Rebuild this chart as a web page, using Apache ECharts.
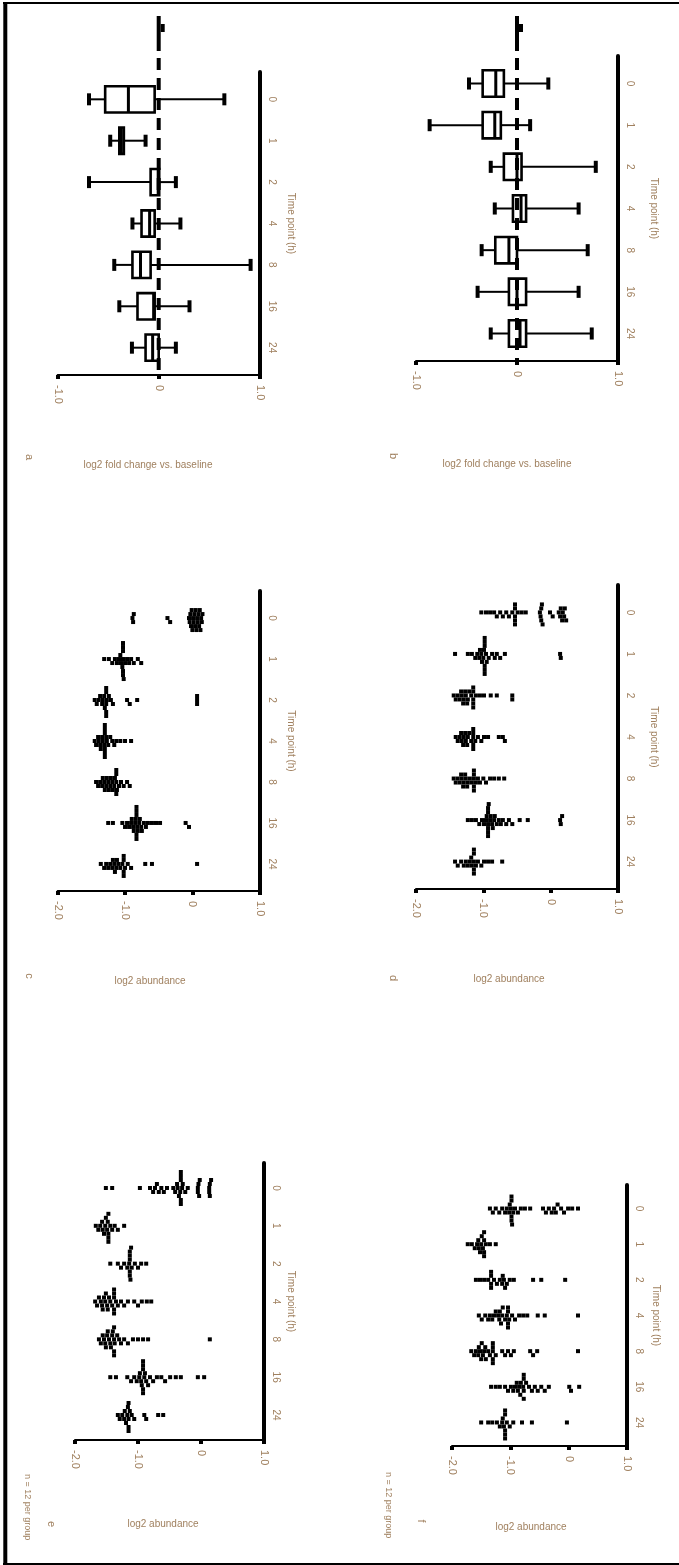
<!DOCTYPE html>
<html>
<head>
<meta charset="utf-8">
<script src="https://cdn.jsdelivr.net/npm/echarts@6/dist/echarts.min.js"></script>
<style>
html,body{margin:0;padding:0;background:#fff;}
#chart{width:679px;height:1565px;}
</style>
</head>
<body>
<div id="chart"></div>
<script>
// ---------------- data ----------------
const rowLabels = ['0', '1', '2', '4', '8', '16', '24'];
const boxTickLabels = { '-1': '-1.0', '0': '0', '1': '1.0' };
const dotTickLabels = { '-2': '-2.0', '-1': '-1.0', '0': '0', '1': '1.0' };
const xTitles = ['log2 fold change vs. baseline', 'log2 fold change vs. baseline',
  'log2 abundance', 'log2 abundance', 'log2 abundance', 'log2 abundance'];
const yTitles = ['Time point (h)', 'Time point (h)', 'Time point (h)',
  'Time point (h)', 'Time point (h)', 'Time point (h)'];
const panelTags = ['a', 'b', 'c', 'd', 'e', 'f'];
const notes = ['n = 12 per group', 'n = 12 per group'];

// box panels: [min, q1, median, q3, max], rows top to bottom
const boxA = [
  [-0.69, -0.53, -0.30, -0.04, 0.65],
  [-0.48, -0.39, -0.37, -0.345, -0.13],
  [-0.69, -0.08, -0.005, 0.005, 0.17],
  [-0.26, -0.17, -0.09, -0.04, 0.215],
  [-0.44, -0.26, -0.18, -0.08, 0.91],
  [-0.39, -0.21, -0.05, -0.04, 0.305],
  [-0.265, -0.13, -0.06, 0.0, 0.17]
];
const boxB = [
  [-0.475, -0.34, -0.21, -0.13, 0.31],
  [-0.865, -0.34, -0.22, -0.16, 0.13],
  [-0.26, -0.13, 0.0, 0.045, 0.78],
  [-0.22, -0.04, 0.04, 0.09, 0.61],
  [-0.35, -0.215, -0.08, 0.0, 0.70],
  [-0.39, -0.08, 0.0, 0.09, 0.61],
  [-0.26, -0.08, 0.03, 0.09, 0.74]
];

// dot panels: individual values per row, rows top to bottom
const dotsC = [
  [-0.89,-0.88,-0.87,-0.37,-0.33,-0.05,-0.04,-0.03,-0.02,-0.01,0.00,0.01,0.02,0.03,0.04,0.05,0.06,0.07,0.08,0.09,0.10,0.11,0.12,0.13,0.14,0.15],
  [-1.31,-1.24,-1.19,-1.15,-1.12,-1.09,-1.07,-1.06,-1.04,-1.03,-1.03,-1.03,-1.03,-1.03,-1.03,-1.02,-1.00,-0.97,-0.94,-0.91,-0.87,-0.81,-0.76],
  [-1.45,-1.42,-1.39,-1.37,-1.34,-1.33,-1.31,-1.30,-1.28,-1.28,-1.28,-1.28,-1.28,-1.27,-1.24,-1.21,-1.18,-0.97,-0.93,-0.82,0.07,0.07,0.07],
  [-1.45,-1.43,-1.40,-1.39,-1.37,-1.36,-1.34,-1.33,-1.31,-1.30,-1.30,-1.30,-1.30,-1.30,-1.30,-1.28,-1.27,-1.25,-1.22,-1.19,-1.16,-1.13,-1.07,-1.00,-0.91],
  [-1.43,-1.40,-1.37,-1.34,-1.33,-1.31,-1.30,-1.28,-1.27,-1.25,-1.24,-1.22,-1.21,-1.19,-1.18,-1.16,-1.15,-1.13,-1.13,-1.13,-1.13,-1.12,-1.09,-1.06,-1.02,-0.97,-0.93],
  [-1.25,-1.18,-1.04,-1.00,-0.97,-0.94,-0.91,-0.90,-0.88,-0.87,-0.85,-0.84,-0.83,-0.83,-0.83,-0.83,-0.83,-0.82,-0.81,-0.79,-0.78,-0.76,-0.75,-0.72,-0.69,-0.66,-0.60,-0.54,-0.48,-0.10,-0.05],
  [-1.36,-1.31,-1.28,-1.25,-1.22,-1.19,-1.18,-1.16,-1.15,-1.13,-1.12,-1.10,-1.07,-1.04,-1.02,-1.02,-1.02,-1.02,-1.00,-0.96,-0.91,-0.70,-0.60,0.07]
];
const dotsD = [
  [-1.03,-0.96,-0.90,-0.84,-0.80,-0.75,-0.71,-0.66,-0.62,-0.57,-0.53,-0.53,-0.53,-0.53,-0.53,-0.49,-0.43,-0.37,-0.16,-0.15,-0.14,-0.14,-0.13,-0.12,-0.01,0.03,0.12,0.14,0.15,0.17,0.18,0.20,0.21,0.23],
  [-1.42,-1.23,-1.17,-1.12,-1.09,-1.06,-1.05,-1.03,-1.02,-1.00,-0.99,-0.98,-0.98,-0.98,-0.98,-0.98,-0.98,-0.96,-0.95,-0.92,-0.87,-0.83,-0.80,-0.75,-0.68,0.14,0.15],
  [-1.44,-1.41,-1.38,-1.35,-1.33,-1.32,-1.30,-1.29,-1.27,-1.26,-1.24,-1.23,-1.21,-1.18,-1.15,-1.15,-1.15,-1.15,-1.15,-1.11,-1.05,-0.99,-0.89,-0.80,-0.57,-0.57],
  [-1.41,-1.38,-1.35,-1.33,-1.32,-1.30,-1.29,-1.27,-1.26,-1.24,-1.23,-1.21,-1.18,-1.15,-1.15,-1.15,-1.15,-1.15,-1.12,-1.08,-1.03,-0.99,-0.93,-0.77,-0.71,-0.68],
  [-1.44,-1.41,-1.38,-1.35,-1.33,-1.32,-1.30,-1.29,-1.27,-1.26,-1.24,-1.23,-1.20,-1.17,-1.14,-1.14,-1.14,-1.14,-1.14,-1.11,-1.08,-1.05,-1.00,-0.96,-0.90,-0.84,-0.77,-0.69],
  [-1.23,-1.17,-1.11,-1.06,-1.02,-0.99,-0.96,-0.95,-0.93,-0.93,-0.93,-0.93,-0.93,-0.93,-0.92,-0.90,-0.89,-0.87,-0.86,-0.84,-0.83,-0.80,-0.77,-0.74,-0.71,-0.66,-0.62,-0.57,-0.46,-0.34,0.14,0.15,0.17],
  [-1.42,-1.38,-1.33,-1.29,-1.26,-1.23,-1.20,-1.18,-1.17,-1.14,-1.14,-1.14,-1.14,-1.14,-1.11,-1.08,-1.03,-0.99,-0.93,-0.87,-0.72]
];
const dotsE = [
  [-1.51,-1.41,-0.97,-0.81,-0.76,-0.73,-0.70,-0.67,-0.63,-0.59,-0.54,-0.44,-0.41,-0.38,-0.37,-0.35,-0.33,-0.32,-0.32,-0.32,-0.32,-0.32,-0.30,-0.29,-0.25,-0.21,-0.05,-0.05,-0.04,-0.03,-0.02,0.13,0.13,0.14,0.14,0.16],
  [-1.67,-1.63,-1.60,-1.57,-1.56,-1.54,-1.52,-1.51,-1.49,-1.48,-1.47,-1.47,-1.47,-1.47,-1.44,-1.41,-1.37,-1.32,-1.22],
  [-1.44,-1.32,-1.27,-1.22,-1.17,-1.14,-1.13,-1.13,-1.13,-1.13,-1.13,-1.12,-1.11,-1.10,-1.05,-1.00,-0.95,-0.87],
  [-1.68,-1.65,-1.62,-1.59,-1.57,-1.56,-1.54,-1.52,-1.51,-1.49,-1.48,-1.46,-1.44,-1.41,-1.38,-1.38,-1.38,-1.38,-1.38,-1.35,-1.32,-1.27,-1.22,-1.16,-1.06,-1.00,-0.94,-0.86,-0.79],
  [-1.62,-1.59,-1.56,-1.54,-1.52,-1.51,-1.49,-1.48,-1.46,-1.44,-1.43,-1.41,-1.40,-1.38,-1.38,-1.38,-1.38,-1.37,-1.33,-1.30,-1.27,-1.22,-1.16,-1.08,-1.00,-0.92,-0.84,0.14],
  [-1.44,-1.35,-1.17,-1.11,-1.06,-1.02,-0.98,-0.97,-0.95,-0.94,-0.92,-0.92,-0.92,-0.92,-0.92,-0.90,-0.89,-0.87,-0.84,-0.81,-0.76,-0.70,-0.63,-0.57,-0.49,-0.40,-0.32,-0.05,0.05],
  [-1.32,-1.29,-1.25,-1.22,-1.21,-1.19,-1.17,-1.16,-1.15,-1.15,-1.15,-1.15,-1.13,-1.10,-1.06,-0.90,-0.87,-0.68,-0.60]
];
const dotsF = [
  [-1.35,-1.30,-1.25,-1.19,-1.14,-1.09,-1.06,-1.02,-1.01,-0.99,-0.98,-0.98,-0.98,-0.98,-0.97,-0.95,-0.92,-0.87,-0.82,-0.75,-0.66,-0.44,-0.39,-0.34,-0.29,-0.25,-0.22,-0.19,-0.13,-0.08,-0.01,0.06,0.16],
  [-1.73,-1.66,-1.61,-1.57,-1.55,-1.54,-1.52,-1.50,-1.49,-1.47,-1.45,-1.45,-1.45,-1.45,-1.42,-1.35,-1.25],
  [-1.59,-1.52,-1.45,-1.38,-1.33,-1.33,-1.33,-1.33,-1.28,-1.23,-1.18,-1.14,-1.13,-1.11,-1.09,-1.06,-1.01,-0.94,-0.61,-0.47,-0.06],
  [-1.54,-1.49,-1.43,-1.38,-1.35,-1.31,-1.28,-1.25,-1.21,-1.19,-1.18,-1.16,-1.14,-1.13,-1.09,-1.06,-1.04,-1.04,-1.04,-1.04,-1.02,-0.97,-0.92,-0.85,-0.78,-0.71,-0.53,-0.41,0.16],
  [-1.67,-1.62,-1.59,-1.55,-1.54,-1.52,-1.50,-1.49,-1.47,-1.45,-1.43,-1.42,-1.38,-1.35,-1.30,-1.30,-1.30,-1.30,-1.30,-1.25,-1.14,-1.09,-1.04,-0.99,-0.94,-0.66,-0.61,-0.54,0.16],
  [-1.33,-1.25,-1.18,-1.09,-1.04,-0.99,-0.95,-0.92,-0.89,-0.87,-0.85,-0.83,-0.82,-0.78,-0.77,-0.77,-0.77,-0.77,-0.73,-0.68,-0.63,-0.58,-0.53,-0.47,-0.41,-0.34,0.01,0.04,0.18],
  [-1.50,-1.38,-1.31,-1.23,-1.18,-1.14,-1.13,-1.11,-1.09,-1.09,-1.09,-1.09,-1.09,-1.06,-1.01,-0.95,-0.80,-0.63,-0.03]
];

// ---------------- layout ----------------
const TXT = '#a0805f';
const FONT = 'Liberation Sans, DejaVu Sans, sans-serif';
const ROW_MIN = 0.34, ROW_MAX = 7.66;
const panels = [
  { kind: 'box', data: boxA, left: 57.7, top: 72,   width: 202, height: 303, nameGap: 26 },
  { kind: 'box', data: boxB, left: 416,  top: 56,   width: 202, height: 305, nameGap: 31 },
  { kind: 'dot', data: dotsC, left: 57.7, top: 591,  width: 202, height: 300, nameGap: 26 },
  { kind: 'dot', data: dotsD, left: 416,  top: 585,  width: 202, height: 304, nameGap: 31 },
  { kind: 'dot', data: dotsE, left: 75,   top: 1163, width: 189, height: 277, nameGap: 22 },
  { kind: 'dot', data: dotsF, left: 452,  top: 1185, width: 175, height: 261, nameGap: 24 }
];
const titlePos = [[148, 465], [507, 464], [150, 981], [509, 979], [163, 1524], [531, 1527]];
const tagPos = [[29, 457], [393, 456], [29, 976], [393, 978], [51, 1524], [421, 1521]];
const notePos = [[27, 1474], [388, 1472]];
const REF_TOP = 16;
const DOT = 4;

// beeswarm layout (vertical offsets only, to avoid overlap of dots)
function swarm(rows, pxPerUnit, pxPerRow) {
  const out = [];
  rows.forEach((vals, ri) => {
    const placed = [];
    vals.slice().sort((a, b) => a - b).forEach(v => {
      const x = v * pxPerUnit;
      let off = 0;
      for (let k = 0; ; k++) {
        off = (k % 2 === 1 ? 1 : -1) * Math.ceil(k / 2) * DOT;
        if (!placed.some(p => Math.abs(p[0] - x) < DOT - 0.01 && Math.abs(p[1] - off) < DOT - 0.01)) break;
      }
      placed.push([x, off]);
      out.push([v, ri + 1 + off / pxPerRow]);
    });
  });
  return out;
}

function boxRender(params, api) {
  const r = api.value(0);
  const pt = k => api.coord([api.value(k), r]);
  const y = pt(1)[1];
  const xMin = pt(1)[0], xQ1 = pt(2)[0], xMed = pt(3)[0], xQ3 = pt(4)[0], xMax = pt(5)[0];
  const band = api.size([0, 1])[1];
  const bh = band * 0.635, ch = band * 0.29;
  const ln = { stroke: '#000', lineWidth: 2 };
  return {
    type: 'group',
    children: [
      { type: 'line', shape: { x1: xMin, y1: y, x2: xQ1, y2: y }, style: ln },
      { type: 'line', shape: { x1: xQ3, y1: y, x2: xMax, y2: y }, style: ln },
      { type: 'rect', shape: { x: xQ1, y: y - bh / 2, width: xQ3 - xQ1, height: bh },
        style: { fill: '#fff', stroke: '#000', lineWidth: 2.6 } },
      { type: 'line', shape: { x1: xMed, y1: y - bh / 2, x2: xMed, y2: y + bh / 2 },
        style: { stroke: '#000', lineWidth: 3 } },
      { type: 'rect', shape: { x: xMin - 2, y: y - ch / 2, width: 4, height: ch }, style: { fill: '#000' } },
      { type: 'rect', shape: { x: xMax - 2, y: y - ch / 2, width: 4, height: ch }, style: { fill: '#000' } }
    ]
  };
}

function refRender(params, api) {
  const x = api.coord([api.value(0), api.value(1)])[0];
  const cs = params.coordSys;
  const bottom = cs.y + cs.height + 2;
  return {
    type: 'group',
    children: [
      { type: 'line', shape: { x1: x, y1: REF_TOP, x2: x, y2: REF_TOP + 35 }, style: { stroke: '#000', lineWidth: 4 } },
      { type: 'rect', shape: { x: x + 2, y: REF_TOP + 8, width: 4, height: 8 }, style: { fill: '#000' } },
      { type: 'line', shape: { x1: x, y1: REF_TOP + 42, x2: x, y2: bottom },
        style: { stroke: '#000', lineWidth: 4, lineDash: [12, 8] } }
    ]
  };
}

const grid = [], xAxis = [], yAxis = [], series = [];
panels.forEach((p, i) => {
  grid.push({ left: p.left, top: p.top, width: p.width, height: p.height });
  const isBox = p.kind === 'box';
  const tickMap = isBox ? boxTickLabels : dotTickLabels;
  xAxis.push({
    gridIndex: i, type: 'value', min: isBox ? -1 : -2, max: 1, interval: 1,
    axisLine: { show: true, onZero: false, lineStyle: { color: '#000', width: 2 } },
    axisTick: { show: true, length: 4, lineStyle: { color: '#000', width: 4 } },
    splitLine: { show: false },
    axisLabel: {
      rotate: -90, margin: 10, fontSize: 11, color: TXT, fontFamily: FONT,
      formatter: v => tickMap[String(Math.round(v))] ?? ''
    }
  });
  yAxis.push({
    gridIndex: i, type: 'value', inverse: true, position: 'right',
    min: ROW_MIN, max: ROW_MAX,
    axisLine: { show: true, onZero: false, lineStyle: { color: '#000', width: 4 } },
    axisTick: { show: false },
    splitLine: { show: false },
    axisLabel: {
      customValues: [1, 2, 3, 4, 5, 6, 7], rotate: -90, margin: 7,
      fontSize: 10, color: TXT, fontFamily: FONT,
      formatter: v => rowLabels[Math.round(v) - 1] ?? ''
    },
    name: yTitles[i], nameLocation: 'middle', nameRotate: -90, nameGap: p.nameGap,
    nameTextStyle: { fontSize: 10, color: TXT, fontFamily: FONT }
  });
  if (isBox) {
    series.push({
      type: 'custom', xAxisIndex: i, yAxisIndex: i, silent: true,
      data: p.data.map((b, r) => [r + 1].concat(b)),
      encode: { x: [1, 2, 3, 4, 5], y: 0 },
      renderItem: boxRender, z: 2
    });
    series.push({
      type: 'custom', xAxisIndex: i, yAxisIndex: i, silent: true, clip: false,
      data: [[0, 1]], encode: { x: 0, y: 1 },
      renderItem: refRender, z: 5
    });
  } else {
    const pxPerUnit = p.width / 3;
    const pxPerRow = p.height / (ROW_MAX - ROW_MIN);
    series.push({
      type: 'scatter', xAxisIndex: i, yAxisIndex: i, silent: true,
      symbol: 'rect', symbolSize: DOT,
      itemStyle: { color: '#000', opacity: 1 },
      data: swarm(p.data, pxPerUnit, pxPerRow)
    });
  }
});

const graphic = [
  { type: 'line', shape: { x1: 5.3, y1: 2, x2: 5.3, y2: 1565 }, style: { stroke: '#000', lineWidth: 4 } },
  { type: 'line', shape: { x1: 3, y1: 3, x2: 679, y2: 3 }, style: { stroke: '#000', lineWidth: 2 } },
  { type: 'line', shape: { x1: 3, y1: 1564, x2: 679, y2: 1564 }, style: { stroke: '#000', lineWidth: 2 } }
];
xTitles.forEach((t, i) => {
  graphic.push({ type: 'text', x: titlePos[i][0], y: titlePos[i][1],
    style: { text: t, fontSize: 10, fill: TXT, font: '10px ' + FONT, align: 'center', verticalAlign: 'middle' } });
});
panelTags.forEach((t, i) => {
  graphic.push({ type: 'text', x: tagPos[i][0], y: tagPos[i][1], rotation: -Math.PI / 2,
    style: { text: t, fontSize: 11, fill: TXT, font: '11px ' + FONT, align: 'center', verticalAlign: 'middle' } });
});
notes.forEach((t, i) => {
  graphic.push({ type: 'text', x: notePos[i][0], y: notePos[i][1], rotation: -Math.PI / 2,
    style: { text: t, fontSize: 9, fill: TXT, font: '9px ' + FONT, align: 'left', verticalAlign: 'middle' } });
});

const chart = echarts.init(document.getElementById('chart'), null, { renderer: 'canvas' });
chart.setOption({
  animation: false,
  backgroundColor: '#fff',
  textStyle: { fontFamily: FONT },
  grid, xAxis, yAxis, series, graphic
});
</script>
</body>
</html>
